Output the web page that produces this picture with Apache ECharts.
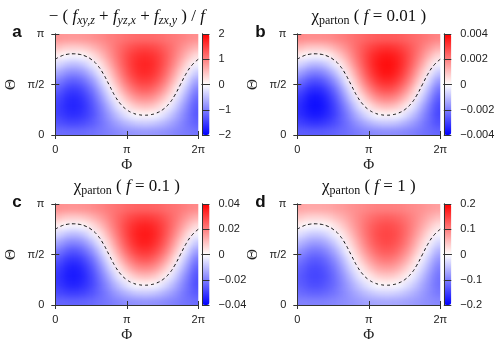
<!DOCTYPE html>
<html>
<head>
<meta charset="utf-8">
<script src="https://cdn.jsdelivr.net/npm/echarts@6/dist/echarts.min.js"></script>
<style>
  html, body { margin: 0; padding: 0; background: #fff; }
  #wrap { position: relative; width: 498px; height: 347px; }
  #heat, #chart { position: absolute; left: 0; top: 0; width: 498px; height: 347px; }
  /* soften the cell edges of the colour map, then cut it back to the plot boxes */
  #heat { filter: blur(3px); }
</style>
</head>
<body>
<div id="wrap">
  <div id="heat"></div>
  <div id="chart"></div>
</div>
<script>
// cell centres (degrees) of the colour map
var phiCells = [7.5, 22.5, 37.5, 52.5, 67.5, 82.5, 97.5, 112.5, 127.5, 142.5, 157.5, 172.5,
  187.5, 202.5, 217.5, 232.5, 247.5, 262.5, 277.5, 292.5, 307.5, 322.5, 337.5, 352.5];
var thetaCells = [7.5, 22.5, 37.5, 52.5, 67.5, 82.5, 97.5, 112.5, 127.5, 142.5, 157.5, 172.5];

// field, one row per theta cell (bottom row first)
var fieldRows = [
  [-1.14,-1.16,-1.17,-1.17,-1.16,-1.14,-1.10,-1.06,-1.02,-0.97,-0.92,-0.88,-0.84,-0.82,-0.81,-0.81,-0.82,-0.84,-0.88,-0.92,-0.97,-1.02,-1.06,-1.10],
  [-1.35,-1.42,-1.46,-1.46,-1.42,-1.35,-1.25,-1.13,-1.00,-0.85,-0.72,-0.60,-0.50,-0.42,-0.39,-0.39,-0.42,-0.50,-0.60,-0.72,-0.85,-1.00,-1.13,-1.25],
  [-1.48,-1.59,-1.65,-1.65,-1.59,-1.48,-1.32,-1.12,-0.91,-0.68,-0.46,-0.27,-0.11,0.00,0.06,0.06,0.00,-0.11,-0.27,-0.46,-0.68,-0.91,-1.12,-1.32],
  [-1.50,-1.65,-1.72,-1.72,-1.65,-1.50,-1.29,-1.04,-0.76,-0.46,-0.18,0.07,0.28,0.43,0.50,0.50,0.43,0.28,0.07,-0.18,-0.46,-0.76,-1.04,-1.29],
  [-1.42,-1.59,-1.68,-1.68,-1.59,-1.42,-1.18,-0.88,-0.55,-0.21,0.12,0.41,0.65,0.83,0.91,0.91,0.83,0.65,0.41,0.12,-0.21,-0.55,-0.88,-1.18],
  [-1.24,-1.43,-1.52,-1.52,-1.43,-1.24,-0.99,-0.67,-0.32,0.05,0.41,0.72,0.98,1.16,1.26,1.26,1.16,0.98,0.72,0.41,0.05,-0.32,-0.67,-0.99],
  [-0.98,-1.16,-1.26,-1.26,-1.16,-0.98,-0.72,-0.41,-0.05,0.32,0.67,0.99,1.24,1.43,1.52,1.52,1.43,1.24,0.99,0.67,0.32,-0.05,-0.41,-0.72],
  [-0.65,-0.83,-0.91,-0.91,-0.83,-0.65,-0.41,-0.12,0.21,0.55,0.88,1.18,1.42,1.59,1.68,1.68,1.59,1.42,1.18,0.88,0.55,0.21,-0.12,-0.41],
  [-0.28,-0.43,-0.50,-0.50,-0.43,-0.28,-0.07,0.18,0.46,0.76,1.04,1.29,1.50,1.65,1.72,1.72,1.65,1.50,1.29,1.04,0.76,0.46,0.18,-0.07],
  [0.11,0.00,-0.06,-0.06,0.00,0.11,0.27,0.46,0.68,0.91,1.12,1.32,1.48,1.59,1.65,1.65,1.59,1.48,1.32,1.12,0.91,0.68,0.46,0.27],
  [0.50,0.42,0.39,0.39,0.42,0.50,0.60,0.72,0.85,1.00,1.13,1.25,1.35,1.42,1.46,1.46,1.42,1.35,1.25,1.13,1.00,0.85,0.72,0.60],
  [0.84,0.82,0.81,0.81,0.82,0.84,0.88,0.92,0.97,1.02,1.06,1.10,1.14,1.16,1.17,1.17,1.16,1.14,1.10,1.06,1.02,0.97,0.92,0.88]
];

// other panels look like panel a times a factor
var panelScale = [1, 0.0022, 0.021, 0.085];
var cbarMax = [2, 0.004, 0.04, 0.2];

// dashed zero line
var zeroPhi = [0, 15, 30, 45, 60, 75, 90, 105, 120, 135, 150, 165, 180, 195, 210, 225, 240, 255, 270, 285, 300, 315, 330, 345, 360];
var zeroTheta = [135, 140.8, 143.8, 144.7, 143.8, 140.8, 135, 125.3, 110.1, 90, 69.9, 54.7, 45, 39.2, 36.2, 35.3, 36.2, 39.2, 45, 54.7, 69.9, 90, 110.1, 125.3, 135];

var panelLetters = ['a', 'b', 'c', 'd'];
var fValues = ['0.01', '0.1', '1'];

var phiTicks = { 0: '0', 180: 'π', 360: '2π' };
var thetaTicks = { 0: '0', 90: 'π/2', 180: 'π' };

// layout
var PW = 143, PH = 101, CBW = 7.5, BLEED = 10;
var boxes = [
  { left: 55.3, top: 34, cb: 202 },
  { left: 297.3, top: 34, cb: 443.8 },
  { left: 55.3, top: 204, cb: 202 },
  { left: 297.3, top: 204, cb: 443.8 }
];
var INK = '#333';
var SANS = 'Liberation Sans, Arial, sans-serif';
var SERIF = 'Liberation Serif, Times New Roman, serif';
var RAMP = ['#0000ff', '#ffffff', '#ff0000'];

var cellData = [];
thetaCells.forEach(function (th, j) {
  phiCells.forEach(function (ph, k) {
    cellData.push([ph, th, fieldRows[j][k]]);
  });
});
var zeroLine = zeroPhi.map(function (p, i) { return [p, zeroTheta[i]]; });

var PHI_FIRST = phiCells[0], PHI_LAST = phiCells[phiCells.length - 1];
var TH_FIRST = thetaCells[0], TH_LAST = thetaCells[thetaCells.length - 1];

// border cells are stretched outwards so the blur does not fade at the frame
function renderCell(params, api) {
  var ph = api.value(0), th = api.value(1);
  var a = api.coord([ph - 7.5, th + 7.5]);
  var b = api.coord([ph + 7.5, th - 7.5]);
  var x0 = a[0], y0 = a[1], x1 = b[0] + 0.7, y1 = b[1] + 0.7;
  if (ph === PHI_FIRST) x0 -= BLEED;
  if (ph === PHI_LAST) x1 += BLEED;
  if (th === TH_LAST) y0 -= BLEED;
  if (th === TH_FIRST) y1 += BLEED;
  return {
    type: 'rect',
    shape: { x: x0, y: y0, width: x1 - x0, height: y1 - y0 },
    style: { fill: api.visual('color') }
  };
}

function fmtBar(v) {
  return String(parseFloat(v.toPrecision(6))).replace('-', '\u2212');
}

function frameAxis(base, extra) {
  var o = {
    type: 'value', z: 10,
    axisLine: { show: true, lineStyle: { color: INK, width: 1 } },
    axisTick: { show: true, inside: true, length: 4, lineStyle: { color: INK } },
    axisLabel: { show: false },
    splitLine: { show: false }
  };
  for (var k in base) o[k] = base[k];
  for (var e in extra || {}) o[e] = extra[e];
  return o;
}

// ---- colour map layer ----
var hGrid = [], hX = [], hY = [], hSeries = [], hVisual = [];
boxes.forEach(function (bx, p) {
  hGrid.push({ left: bx.left, top: bx.top, width: PW, height: PH });
  hX.push({ type: 'value', gridIndex: p, min: 0, max: 360, show: false });
  hY.push({ type: 'value', gridIndex: p, min: 0, max: 180, show: false });
  var s = panelScale[p];
  hSeries.push({
    type: 'custom',
    xAxisIndex: p, yAxisIndex: p,
    renderItem: renderCell,
    clip: false,
    silent: true,
    data: cellData.map(function (d) { return [d[0], d[1], d[2] * s]; }),
    encode: { x: 0, y: 1 }
  });
  hVisual.push({
    type: 'continuous', show: false, seriesIndex: p, dimension: 2,
    min: -cbarMax[p], max: cbarMax[p], inRange: { color: RAMP }
  });
});

var heatEl = document.getElementById('heat');
heatEl.style.clipPath = 'path("' + boxes.map(function (bx) {
  return 'M' + bx.left + ' ' + bx.top + ' h' + PW + ' v' + PH + ' h' + (-PW) + ' Z';
}).join(' ') + '")';

var heat = echarts.init(heatEl);
heat.setOption({
  animation: false,
  grid: hGrid, xAxis: hX, yAxis: hY,
  visualMap: hVisual,
  series: hSeries
});

// ---- frames, contour, colour bars and text ----
var grid = [], xAxis = [], yAxis = [], series = [], visualMap = [], graphic = [];

boxes.forEach(function (bx, p) {
  var g = grid.length;
  grid.push({ left: bx.left, top: bx.top, width: PW, height: PH });
  grid.push({ left: bx.cb, top: bx.top, width: CBW, height: PH });

  var labelStyle = { show: true, color: '#222', fontFamily: SANS, fontSize: 11 };

  // plot frame
  xAxis.push(frameAxis({ gridIndex: g, min: 0, max: 360, interval: 180, position: 'bottom' }, {
    axisLabel: Object.assign({}, labelStyle, { margin: 9, formatter: function (v) { return phiTicks[v]; } }),
    name: 'Φ', nameLocation: 'middle', nameGap: 23,
    nameTextStyle: { fontFamily: SERIF, fontSize: 15, color: '#222' }
  }));
  xAxis.push(frameAxis({ gridIndex: g, min: 0, max: 360, interval: 180, position: 'top' }));
  yAxis.push(frameAxis({ gridIndex: g, min: 0, max: 180, interval: 90, position: 'left' }, {
    axisLabel: Object.assign({}, labelStyle, { margin: 11, formatter: function (v) { return thetaTicks[v]; } }),
    name: 'Θ', nameLocation: 'middle', nameGap: 37, nameRotate: 90,
    nameTextStyle: { fontFamily: SERIF, fontSize: 15, color: '#222' }
  }));
  yAxis.push(frameAxis({ gridIndex: g, min: 0, max: 180, interval: 90, position: 'right' }));

  // colour bar frame
  var m = cbarMax[p];
  xAxis.push(frameAxis({ gridIndex: g + 1, min: 0, max: 1, position: 'bottom' }, { axisTick: { show: false } }));
  xAxis.push(frameAxis({ gridIndex: g + 1, min: 0, max: 1, position: 'top' }, { axisTick: { show: false } }));
  yAxis.push(frameAxis({ gridIndex: g + 1, min: -m, max: m, interval: m / 2, position: 'left' }, { axisTick: { show: false } }));
  yAxis.push(frameAxis({ gridIndex: g + 1, min: -m, max: m, interval: m / 2, position: 'right' }, {
    axisTick: { show: false },
    axisLabel: Object.assign({}, labelStyle, { margin: 9, formatter: fmtBar }),
    splitLine: { show: true, lineStyle: { color: INK, width: 1 } }
  }));

  var xi = xAxis.length - 4, yi = yAxis.length - 4;
  var sIdx = series.length;
  // holder series for the colour bar legend (the cells live on the heat layer)
  series.push({
    type: 'custom', xAxisIndex: xi, yAxisIndex: yi,
    renderItem: function () { return null; }, data: [], silent: true
  });
  series.push({
    type: 'line',
    xAxisIndex: xi, yAxisIndex: yi,
    data: zeroLine,
    smooth: true,
    showSymbol: false,
    silent: true,
    z: 5,
    lineStyle: { color: '#111', width: 1, type: [3, 3] }
  });

  visualMap.push({
    type: 'continuous',
    seriesIndex: sIdx,
    min: -m, max: m,
    calculable: false,
    orient: 'vertical',
    left: bx.cb - 5, top: bx.top - 5,
    itemWidth: CBW, itemHeight: PH,
    padding: 5,
    text: null,
    hoverLink: false,
    inRange: { color: RAMP }
  });

  // panel letter and title
  var cx = bx.left + PW / 2;
  graphic.push({
    type: 'text', x: 12.3 + (p % 2) * 243, y: bx.top - 10, z: 20,
    style: { text: panelLetters[p], font: 'bold 17px ' + SANS, fill: '#111', verticalAlign: 'alphabetic' }
  });
  var rich = {
    n: { fontFamily: SERIF, fontSize: 17, lineHeight: 20, verticalAlign: 'middle', fill: '#111' },
    i: { fontFamily: SERIF, fontStyle: 'italic', fontSize: 17, lineHeight: 20, verticalAlign: 'middle', fill: '#111' },
    s: { fontFamily: SERIF, fontStyle: 'italic', fontSize: 12, lineHeight: 20, verticalAlign: 'middle', padding: [9, 0, 0, 0], fill: '#111' },
    u: { fontFamily: SERIF, fontSize: 12, lineHeight: 20, verticalAlign: 'middle', padding: [9, 0, 0, 0], fill: '#111' }
  };
  var txt = p === 0
    ? '{n|\u2212 ( }{i|f}{s|xy,z}{n| + }{i|f}{s|yz,x}{n| + }{i|f}{s|zx,y}{n| ) / }{i|f}'
    : '{n|χ}{u|parton}{n| ( }{i|f}{n| = ' + fValues[p - 1] + ' )}';
  graphic.push({
    type: 'text', x: cx, y: bx.top - 17.5, z: 20,
    style: { text: txt, rich: rich, align: 'center', verticalAlign: 'middle' }
  });
});

var chart = echarts.init(document.getElementById('chart'));
chart.setOption({
  animation: false,
  grid: grid,
  xAxis: xAxis,
  yAxis: yAxis,
  visualMap: visualMap,
  series: series,
  graphic: graphic
});
</script>
</body>
</html>
